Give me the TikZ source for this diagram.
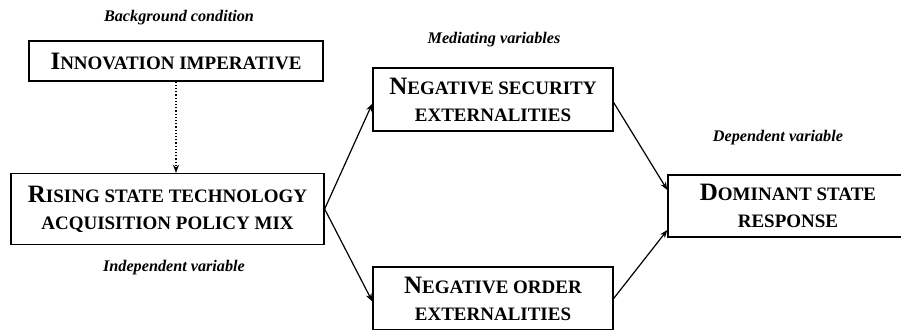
\documentclass[tikz,border=0pt]{standalone}
\usepackage{fontspec}
\setmainfont{Liberation Serif}
\usetikzlibrary{positioning, arrows.meta}

% large initial for the hand-made small caps
\newcommand{\initcap}[1]{{\fontsize{25}{27}\selectfont #1}}

\begin{document}
\begin{tikzpicture}[
  x=1pt, y=-1pt,
  varbox/.style={
    draw=black,
    line width=1.3pt,
    align=center,
    inner sep=0pt,
    font=\fontsize{19}{27}\selectfont\bfseries
  },
  rolelabel/.style={
    font=\fontsize{16.2}{18}\selectfont\bfseries\itshape,
    inner sep=0pt
  },
  link arrow/.style={
    -{Stealth[length=8pt, width=6pt]},
    line width=1.2pt
  },
  cond arrow/.style={
    -{Stealth[length=8pt, width=6pt]},
    line width=1.2pt,
    dotted
  }
]
\useasboundingbox (0,0) rectangle (901,329);

\node(innov)[varbox, minimum width=294, minimum height=40] at (176,61)
  {\initcap{I}NNOVATION IMPERATIVE};
\node(rising)[varbox, minimum width=313, minimum height=71] at (167.5,209)
  {\initcap{R}ISING STATE TECHNOLOGY\\ACQUISITION POLICY MIX};
\node(security)[varbox, minimum width=240, minimum height=63] at (493,99.5)
  {\initcap{N}EGATIVE SECURITY\\EXTERNALITIES};
\node(order)[varbox, minimum width=240, minimum height=63] at (493,298.5)
  {\initcap{N}EGATIVE ORDER\\EXTERNALITIES};
\node(dominant)[varbox, minimum width=240, minimum height=62] at (788,206)
  {\initcap{D}OMINANT STATE\\RESPONSE};

\node(bgcond)[rolelabel] at (179,18) {Background condition};
\node(indep)[rolelabel] at (174,268) {Independent variable};
\node(mediat)[rolelabel] at (494,40) {Mediating variables};
\node(depend)[rolelabel] at (778,138) {Dependent variable};

\draw[cond arrow] (innov.south) -- (innov.south |- rising.north);

\draw[link arrow] (rising.east) -- ([yshift=-4pt]security.west);
\draw[link arrow] (rising.east) -- ([yshift=-3pt]order.west);
\draw[link arrow] ([yshift=-3pt]security.east) -- ([yshift=16pt]dominant.west);
\draw[link arrow] (order.east) -- ([yshift=-24pt]dominant.west);

\end{tikzpicture}
\end{document}
